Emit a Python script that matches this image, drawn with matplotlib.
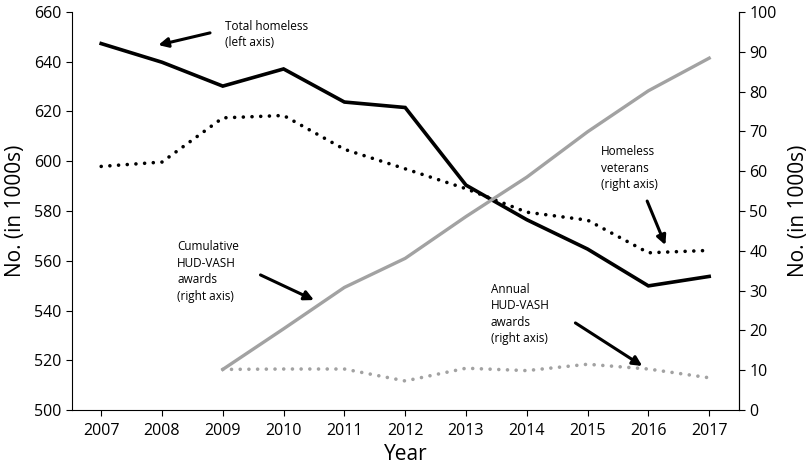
import matplotlib
matplotlib.use("Agg")
import matplotlib.pyplot as plt

plt.rcParams['font.family'] = ['Open Sans', 'DejaVu Sans']

years = [2007, 2008, 2009, 2010, 2011, 2012, 2013, 2014, 2015, 2016, 2017]
total_homeless = [647.3, 639.8, 630.2, 637.1, 623.8, 621.6, 590.4, 576.5, 564.7, 549.9, 553.7]
homeless_veterans = [61.2, 62.3, 73.4, 74.0, 65.5, 60.6, 55.6, 49.7, 47.7, 39.5, 40.1]
vash_years = [2009, 2010, 2011, 2012, 2013, 2014, 2015, 2016, 2017]
cumulative_vash = [10.2, 20.4, 30.8, 38.1, 48.6, 58.5, 69.9, 80.2, 88.4]
annual_vash = [10.2, 10.3, 10.3, 7.3, 10.5, 9.9, 11.5, 10.3, 8.1]

grey = '#a2a2a2'
dots = (0, (0.01, 2.4))

fig = plt.figure(figsize=(8.1, 4.68), dpi=100)
ax = fig.add_axes([0.0889, 0.1239, 0.8234, 0.8505])
ax2 = ax.twinx()

ax.plot(years, total_homeless, color='black', lw=2.6, solid_joinstyle='miter')
ax2.plot(years, homeless_veterans, color='black', lw=2.6, linestyle=dots, dash_capstyle='round')
ax2.plot(vash_years, cumulative_vash, color=grey, lw=2.4)
ax2.plot(vash_years, annual_vash, color=grey, lw=2.6, linestyle=dots, dash_capstyle='round')

ax.set_xlim(2006.52, 2017.49)
ax.set_ylim(500, 660)
ax2.set_ylim(0, 100)
ax.set_xticks(years)
ax.set_yticks(range(500, 661, 20))
ax2.set_yticks(range(0, 101, 10))

for a in (ax, ax2):
    a.spines['top'].set_visible(False)
    for s in a.spines.values():
        s.set_linewidth(0.8)
    a.tick_params(direction='out', length=4, width=0.8, labelsize=11.5)
ax.tick_params(axis='x', pad=5)
ax2.spines['left'].set_visible(False)
ax2.spines['bottom'].set_visible(False)

ax.set_xlabel('Year', fontsize=15, labelpad=4)
ax.set_ylabel('No. (in 1000s)', fontsize=15, labelpad=6)
ax2.set_ylabel('No. (in 1000s)', fontsize=15, labelpad=8)

notes = [
    ("Total homeless\n(left axis)", (2009.04, 656.8), (2008.79, 651.6), (2007.94, 646.7)),
    ("Homeless\nveterans\n(right axis)", (2015.22, 606.5), (2015.98, 584.0), (2016.28, 566.3)),
    ("Cumulative\nHUD-VASH\nawards\n(right axis)", (2008.25, 568.3), (2009.62, 554.3), (2010.50, 544.2)),
    ("Annual\nHUD-VASH\nawards\n(right axis)", (2013.41, 551.1), (2014.80, 535.0), (2015.90, 517.7)),
]
for label, pos, tail, head in notes:
    ax.text(pos[0], pos[1], label, fontsize=8.5, va='top', ha='left', linespacing=1.35)
    ax.annotate('', xy=head, xytext=tail,
                arrowprops=dict(arrowstyle='-|>', color='black', lw=2.2,
                                mutation_scale=14, shrinkA=0, shrinkB=0))

fig.savefig('out.png', dpi=100)
